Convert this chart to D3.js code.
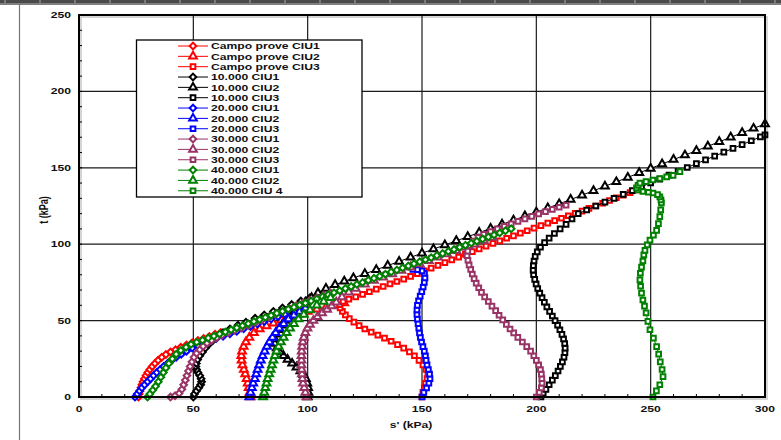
<!DOCTYPE html>
<html>
<head>
<meta charset="utf-8">
<script src="https://cdn.jsdelivr.net/npm/d3@7"></script>
<style>
  body { margin: 0; background: #fff; }
  svg { display: block; }
  text { font-family: "Liberation Sans", Arial, sans-serif; font-weight: bold; fill: #111; }
</style>
</head>
<body>
<svg id="chart" width="781" height="440"></svg>
<script>
// ---- axis ticks ----
const xTicks = [0, 50, 100, 150, 200, 250, 300];
const yTicks = [0, 50, 100, 150, 200, 250];
const xLabel = "s' (kPa)";
const yLabel = "t (kPa)";

// ---- series (legend order) ----
const seriesNames = [
  "Campo prove CIU1", "Campo prove CIU2", "Campo prove CIU3",
  "10.000 CIU1", "10.000 CIU2", "10.000 CIU3",
  "20.000 CIU1", "20.000 CIU2", "20.000 CIU3",
  "30.000 CIU1", "30.000 CIU2", "30.000 CIU3",
  "40.000 CIU1", "40.000 CIU2", "40.000 CIU 4"
];
const seriesColors = [
  "#ff0000", "#ff0000", "#ff0000",
  "#000000", "#000000", "#000000",
  "#0000ff", "#0000ff", "#0000ff",
  "#993366", "#993366", "#993366",
  "#008000", "#008000", "#008000"
];
const seriesMarkers = [
  "diamond", "triangle", "square",
  "diamond", "triangle", "square",
  "diamond", "triangle", "square",
  "diamond", "triangle", "square",
  "diamond", "triangle", "square"
];

// [s', t] in kPa
const campoCIU1 = [[26,0],[26.3,2],[26.7,4],[27.1,6],[27.5,8],[28,10],[28.6,12],[29.3,14],[30.1,16],[31,18],[32,20],[33.2,22],[34.6,24],[36.2,26],[38,27.8],[40,29.5],[42.2,31],[44.5,32.5],[47,34],[49.5,35.5],[52,37],[54.5,38.3],[57,39.6],[59.5,41],[62,42.2]];
const campoCIU2 = [[75,0],[74.6,3],[74.2,6],[73.8,9],[73.3,12],[72.7,15],[72.1,18],[71.5,21],[71.1,24],[71,27],[71.3,30],[72,33],[73,36],[74.5,39],[76.5,42],[79,44.5],[82,46.5],[85,48.3],[88.5,50.3],[92,52.3],[96,54.2],[100,56],[104,57.5],[108,58.7],[112,60],[116,61.5]];
const campoCIU3 = [[150,0],[150.4,3],[151,6],[151.6,9],[152.2,12],[152.6,15],[151.8,18],[150.4,21],[148.7,24],[146.7,27],[144.5,29.5],[142,32],[139.3,34.3],[136.5,36.5],[133.6,38.5],[130.7,40.5],[127.8,42.5],[125,44.5],[122.5,46.7],[120.2,49],[118.2,51.3],[116.5,53.7],[115.2,56],[114.2,58.3],[114,60.5],[115.5,62.5],[118,64],[121,65.5],[124,67.2],[127,68.9],[130,70.6],[133,72.3],[136,74],[139,75.6],[142,77.2],[145,79],[148,80.8],[151,82.6],[154,84.4],[157,86.2],[160,88],[163,89.8],[166,91.6],[169,93.4],[172,95.2],[175,97],[178,98.8],[181,100.5],[184,102.2],[187,103.9],[190,105.5],[193,107.2],[196,108.8],[199,110.5],[202,112.1],[205,113.8],[208,115.4],[211,117],[214,118.6],[217,120.2],[220,121.7],[223,123.4],[226,125],[229,126.8],[232,128.6],[235,130.4],[238,132.1],[241,133.8],[244,135.5]];

const tenCIU1 = [[50,0],[50.5,2],[51.4,4],[52.4,6],[53.2,8],[53.6,10],[53.4,12],[52.8,14],[52,16],[51.4,18],[51.1,20],[51.3,22],[51.9,24.5],[52.8,27],[54,29.5],[55.3,32],[56.8,34.5],[58.5,37],[60.5,39.5],[63,42],[66,44.5],[69.5,47],[73,49],[77,51.5],[81,53.7],[85,56],[89,58.3],[93,60.5],[97,62.8],[101,65],[105,67.5]];
const tenCIU2 = [[100,0],[100.3,3],[100.2,6],[99.8,9],[99.2,12],[98.2,14.5],[96.8,17],[95.1,19.5],[93.2,22],[91.2,24.5],[89.4,27],[87.8,29.5],[86.5,32],[85.7,35],[85.6,38],[86.2,41],[87.3,44],[88.7,47],[90.3,50],[92.1,53],[94.2,56],[96.5,59],[99,62],[101.7,65],[104.5,68],[108,71],[112,73.5],[116,75.7],[120,77.9],[125,80.6],[130,83.3],[135,86],[140,88.7],[145,91.4],[150,94.1],[155,96.8],[160,99.5],[165,102.2],[170,104.9],[175,107.6],[180,110.3],[185,113],[190,115.7],[195,118.4],[200,121],[205,123.7],[210,126.4],[215,129.2],[220,132.1],[225,135],[230,137.9],[235,140.8],[240,143.7],[245,146.7],[250,149.6],[255,152.5],[260,155.4],[265,158.3],[270,161.2],[275,164.1],[280,167],[285,170],[290,172.9],[295,175.8],[300,178.7]];
const tenCIU3 = [[202,0],[203,2.5],[204.2,5],[205.6,8],[207,11],[208.3,14],[209.5,17],[210.5,20],[211.4,23],[212.1,26],[212.5,29],[212.6,32],[212.4,35],[211.9,38],[211.2,41],[210.3,44],[209.3,47],[208.2,50],[207,53],[205.8,56],[204.6,59],[203.5,62],[202.5,65],[201.5,68],[200.6,71],[199.9,74],[199.3,77],[198.8,80],[198.6,83],[198.7,86],[199,89],[199.5,92],[200.4,95],[201.8,98],[203.6,101],[205.6,104],[207.9,107],[210.4,110],[213,113],[215.6,116.5],[218.3,120],[222,122.4],[226,125],[230,127.5],[234,130],[238,132.6],[242,135.1],[246,137.6],[250,140.1],[254,142.6],[258,145.2],[262,147.7],[266,150.2],[270,152.7],[274,155.2],[278,157.7],[282,160.2],[286,162.7],[290,165.2],[294,167.7],[298,170.2],[300,171.5]];

const twentyCIU1 = [[24.5,0],[25.5,2],[26.5,4],[27.5,6],[28.7,8],[30,10],[31.3,12],[32.6,14],[34,16],[35.5,18],[37,20],[38.7,22],[40.5,24],[42.5,26],[44.7,28],[47,30],[49.5,32],[52,33.7],[54.5,35.2],[57,36.6],[60,38.2],[63,39.8],[66,41.4],[69,43],[72,44.6],[75,46.2],[78,47.8],[81,49.4],[84,51],[87,52.6],[90,54.2]];
const twentyCIU2 = [[74.5,0],[75,3],[75.6,6],[76.2,9],[76.9,12],[77.5,15],[78.1,18],[78.8,21],[79.5,24],[80.3,27],[81.2,30],[82.2,33],[83.3,36],[84.6,39],[86,42],[87.6,45],[89.5,48],[91.6,51],[94,53.5],[96.5,56],[99,58]];
const twentyCIU3 = [[150,0],[150.8,3],[152,6],[153,9],[153.5,12],[153.3,15],[152.8,18],[152.2,21],[151.8,24],[151.5,27],[151,30],[150.4,33],[149.8,36],[149.3,39],[148.9,42],[148.6,45],[148.3,48],[148,51],[147.8,54],[147.8,57],[148,60],[148.5,63],[149.2,66],[149.9,69],[150.5,72],[151,75],[151.3,78],[151,81],[150,82.5],[148,83.3],[146,83.5]];

const thirtyCIU1 = [[40,0],[42,0.8],[43.8,2.4],[45,5],[45.8,8],[46.5,11],[47.2,14],[47.9,17],[48.6,20],[49.4,23],[50.3,26],[51.4,28.6],[52.8,31],[54.3,33.2],[56,35.2],[58,37],[60.2,38.8],[62.6,40.5],[65.2,42.1],[68,43.6],[71,45.2],[74,46.8],[77,48.5],[80,50.3],[83,52.2],[86,54.1],[89,56],[92,57.9],[95,59.8],[98,61.6],[101,63.3],[104,65],[107,66.6],[110,68.2]];
const thirtyCIU2 = [[99.5,0],[99,3],[98.5,6],[98,9],[97.7,12],[97.5,15],[97.4,18],[97.3,21],[97.3,24],[97.3,27],[97.4,30],[97.6,33],[97.9,36],[98.3,39],[99,42],[99.9,45],[101,47.5],[102.5,50],[104.3,52.5],[106.3,55],[108.5,57.3],[110.5,59.5],[112.5,62],[115,65.5],[118,68.5],[121,71],[125,73.8],[129,76.2],[133,78.4],[137,80.5],[141,82.7],[145,84.9],[149,87],[153,89.2],[157,91.4],[161,93.5],[165,95.7],[169,97.9],[173,100],[177,102.2],[181,104.4]];
const thirtyCIU3 = [[200,0],[201.3,3],[202.2,6],[202.5,9],[202.4,12],[202.2,15],[201.8,18],[201,21],[200,24],[198.9,27],[197.5,30],[195.8,33],[193.9,36],[191.9,39],[190.1,42],[188.5,44.5],[186.9,47.5],[185.3,50.5],[183.7,53.5],[182.2,56.5],[180.6,59.5],[179,62.5],[177.4,65.5],[176,68.5],[174.8,71.5],[173.7,74.5],[172.8,77.5],[172,80.5],[171.3,83.5],[170.6,86.5],[170.1,89.5],[169.7,92.5],[170,95.5],[171,99],[172.5,102],[174.5,104.5],[177,106.5],[180,108.3],[183,110],[186,111.7],[189,113.4],[192,115],[195,116.6],[198,118.2],[201,119.8],[204,121.3],[207,122.8],[210,124.2],[213,125.5]];

const fortyCIU1 = [[30,0],[31,2],[32.3,4.5],[33.5,7],[34.7,10],[35.8,13],[36.9,16],[38,19],[39.3,22],[40.8,25],[42.5,28],[44.5,30.5],[46.8,32.6],[49,34.5],[51.5,35.9],[54,37.2],[56.5,38.6],[59,39.9],[61.5,41.3],[64,42.6],[66.5,44],[69,45.3],[71.5,46.7],[74,48],[76.5,49.4],[79,50.7],[81.5,52.1],[84,53.4],[86.5,54.8],[89,56.1],[91.5,57.5],[94,58.8],[96.5,60.2],[99,61.5],[101.5,62.9],[104,64.2],[106.5,65.6],[109,66.9],[111.5,68.3],[114,69.6],[116.5,71],[119,72.3],[121.5,73.7],[124,75],[126.5,76.4],[129,77.7],[131.5,79.1],[134,80.4],[136.5,81.8],[139,83.1],[141.5,84.5],[144,85.8],[146.5,87.2],[149,88.5],[151.5,89.9],[154,91.2],[156.5,92.6],[159,93.9],[161.5,95.3],[164,96.6],[166.5,98],[169,99.3],[171.5,100.7],[174,102],[176.5,103.4],[179,104.7],[181.5,106.1],[184,107.4],[186.5,108.8],[189,110.1]];
const fortyCIU2 = [[80.5,0],[81,3],[81.5,6],[82,9],[82.5,12],[83.2,15],[83.8,18],[84.4,21],[85,24],[85.7,27],[86.4,30],[87.3,33],[88.3,36],[89.5,39],[90.8,42],[92.3,45],[94,48],[96,51],[98.3,54],[101,57],[104,60],[107,62.5],[110,65]];
const fortyCIU4 = [[251,0],[252.5,4],[254,8],[255.4,13.3],[255,18],[254.2,23],[253.5,28],[252.6,33],[251.2,38.5],[249.7,44],[248.8,49.5],[248,55],[247.3,59.5],[246.6,63.5],[246,68],[245.6,72.5],[245.3,76.6],[245.5,81],[246,85],[246.6,89],[247,93],[247.5,96],[248.5,99.5],[249.7,102.7],[251.2,106],[252.6,109],[253.4,113.5],[254,118],[254.4,122.5],[254.7,127],[254.5,129],[254,131],[253,132.5],[251,133.5],[249,134],[246.6,134.5],[244.5,135.5],[243.8,136.8],[244.5,138.5],[245.3,140],[248,141],[251,142],[254,143],[257,144],[259.8,145],[262.8,147.5]];

const seriesData = [
  campoCIU1, campoCIU2, campoCIU3,
  tenCIU1, tenCIU2, tenCIU3,
  twentyCIU1, twentyCIU2, twentyCIU3,
  thirtyCIU1, thirtyCIU2, thirtyCIU3,
  fortyCIU1, fortyCIU2, fortyCIU4
];

// ---- layout ----
const W = 781, H = 440;
const plot = { left: 79, right: 765, top: 15, bottom: 397 };
const SX = 1.35; // horizontal stretch of the lettering

const svg = d3.select("#chart");
const x = d3.scaleLinear().domain([0, 300]).range([plot.left, plot.right]);
const y = d3.scaleLinear().domain([0, 250]).range([plot.bottom, plot.top]);

// page decoration: ruler strip along the top and a rule at the left
svg.append("rect").attr("x", 0).attr("y", 0).attr("width", W).attr("height", 3).attr("fill", "#4a4a4a");
svg.append("g").selectAll("line").data(d3.range(5, W, 35)).join("line")
  .attr("x1", d => d).attr("x2", d => d).attr("y1", 0).attr("y2", 3)
  .attr("stroke", "#aaa").attr("stroke-width", 1);
svg.append("line").attr("x1", 0).attr("x2", W).attr("y1", 4).attr("y2", 4).attr("stroke", "#000").attr("stroke-width", 1);
svg.append("line").attr("x1", 19.5).attr("x2", 19.5).attr("y1", 4).attr("y2", H).attr("stroke", "#777").attr("stroke-width", 1.2);

// frame shadow
svg.append("rect").attr("x", plot.left + 2).attr("y", plot.top + 2)
  .attr("width", plot.right - plot.left).attr("height", plot.bottom - plot.top)
  .attr("fill", "none").attr("stroke", "#c8c8c8").attr("stroke-width", 1.5);

// grid
const grid = svg.append("g").attr("stroke", "#1a1a1a").attr("stroke-width", 1.2);
grid.selectAll(".gx").data(xTicks.slice(1, -1)).join("line")
  .attr("x1", d => x(d)).attr("x2", d => x(d)).attr("y1", plot.top).attr("y2", plot.bottom);
grid.selectAll(".gy").data(yTicks.slice(1, -1)).join("line")
  .attr("y1", d => y(d)).attr("y2", d => y(d)).attr("x1", plot.left).attr("x2", plot.right);

// inward minor ticks every 10 kPa
const tk = svg.append("g").attr("stroke", "#000").attr("stroke-width", 1);
tk.selectAll(".tx").data(d3.range(10, 300, 10)).join("line")
  .attr("x1", d => x(d)).attr("x2", d => x(d)).attr("y1", plot.bottom).attr("y2", plot.bottom - 3);
tk.selectAll(".ty").data(d3.range(10, 250, 10)).join("line")
  .attr("y1", d => y(d)).attr("y2", d => y(d)).attr("x1", plot.left).attr("x2", plot.left + 3);

// stress paths: diamonds are squares turned 45 degrees
const symbolType = { diamond: d3.symbolSquare, triangle: d3.symbolTriangle, square: d3.symbolSquare };
const symbolSize = { diamond: 22, triangle: 26, square: 22 };
const symbolTurn = { diamond: 45, triangle: 0, square: 0 };
const line = d3.line().x(d => x(d[0])).y(d => y(d[1]));

function marker(kind) {
  return d3.symbol().type(symbolType[kind]).size(symbolSize[kind]);
}

seriesData.forEach((data, i) => {
  const g = svg.append("g");
  const c = seriesColors[i];
  const kind = seriesMarkers[i];
  g.append("path").attr("d", line(data)).attr("fill", "none").attr("stroke", c).attr("stroke-width", 1);
  g.selectAll("path.m").data(data).join("path")
    .attr("class", "m")
    .attr("d", marker(kind))
    .attr("transform", d => `translate(${x(d[0])},${y(d[1])}) rotate(${symbolTurn[kind]})`)
    .attr("fill", "#fff").attr("stroke", c).attr("stroke-width", 2);
});

// frame
svg.append("rect").attr("x", plot.left).attr("y", plot.top)
  .attr("width", plot.right - plot.left).attr("height", plot.bottom - plot.top)
  .attr("fill", "none").attr("stroke", "#000").attr("stroke-width", 2);

// tick labels
svg.append("g").selectAll("text").data(xTicks).join("text")
  .attr("transform", d => `translate(${x(d)},412) scale(${SX},1)`)
  .attr("text-anchor", "middle").attr("font-size", 9).text(d => d);
svg.append("g").selectAll("text").data(yTicks).join("text")
  .attr("transform", d => `translate(71,${y(d) + 3}) scale(${SX},1)`)
  .attr("text-anchor", "end").attr("font-size", 9).text(d => d);

// axis titles
svg.append("text").attr("transform", `translate(411,428) scale(${SX},1)`)
  .attr("text-anchor", "middle").attr("font-size", 9).text(xLabel);
svg.append("text").attr("transform", `translate(48,210) scale(${SX},1) rotate(-90)`)
  .attr("text-anchor", "middle").attr("font-size", 9).text(yLabel);

// legend
const lg = svg.append("g");
lg.append("rect").attr("x", 136.5).attr("y", 40).attr("width", 225.5).attr("height", 157)
  .attr("fill", "#fff").attr("stroke", "#000").attr("stroke-width", 1.3);
seriesNames.forEach((name, i) => {
  const yy = 46 + i * 10.34;
  const c = seriesColors[i];
  const kind = seriesMarkers[i];
  lg.append("line").attr("x1", 178).attr("x2", 208).attr("y1", yy).attr("y2", yy)
    .attr("stroke", c).attr("stroke-width", 1);
  lg.append("path").attr("d", marker(kind)())
    .attr("transform", `translate(193,${yy}) rotate(${symbolTurn[kind]})`)
    .attr("fill", "#fff").attr("stroke", c).attr("stroke-width", 2);
  lg.append("text").attr("transform", `translate(211,${yy + 3.2}) scale(${SX},1)`)
    .attr("font-size", 9).text(name);
});
</script>
</body>
</html>
